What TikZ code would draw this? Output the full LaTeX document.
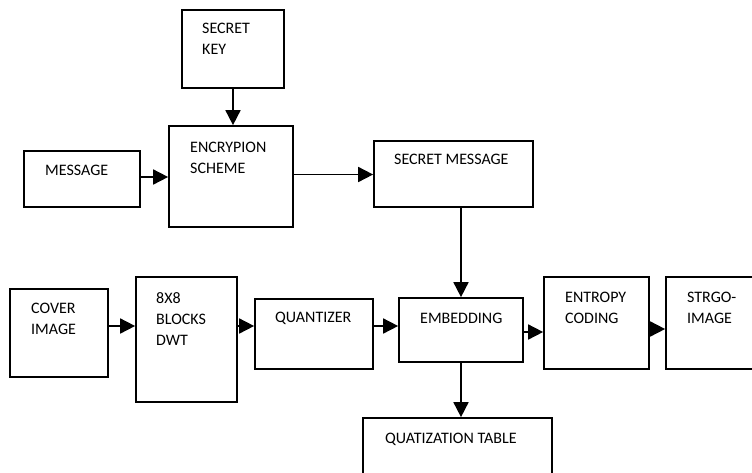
\documentclass[tikz,border=0pt]{standalone}
\usepackage{fontspec}
\setmainfont{Carlito}
\usetikzlibrary{arrows.meta}
\begin{document}
\begin{tikzpicture}[x=1pt,y=-1pt,
  box/.style={draw=black,line width=1.7pt,inner sep=0pt,rectangle},
  lbl/.style={anchor=north west,inner sep=0pt,align=left,font=\fontsize{16}{21}\selectfont},
  flow/.style={line width=1.7pt,-{Triangle[length=15pt,width=15pt]}}]
\useasboundingbox (0,0) rectangle (752,472);
\begin{scope}
\clip (0,0) rectangle (752,472);
% boxes: centre at ((x1+x2)/2,(y1+y2)/2)
\node[box,minimum width=102pt,minimum height=78pt] (key) at (233,49) {};
\node[box,minimum width=124pt,minimum height=101pt] (enc) at (231,176.5) {};
\node[box,minimum width=116pt,minimum height=56pt] (msg) at (82,179) {};
\node[box,minimum width=159pt,minimum height=66pt] (smsg) at (453.5,174) {};
\node[box,minimum width=98pt,minimum height=88pt] (cover) at (59,333) {};
\node[box,minimum width=101pt,minimum height=125pt] (dwt) at (186.5,339.5) {};
\node[box,minimum width=118pt,minimum height=70pt] (quant) at (314,334) {};
\node[box,minimum width=124pt,minimum height=64pt] (emb) at (461,330) {};
\node[box,minimum width=105pt,minimum height=92pt] (ent) at (596.5,323) {};
\node[box,minimum width=104pt,minimum height=92pt] (stego) at (718,323) {};
\node[box,minimum width=189pt,minimum height=72pt] (qtab) at (457.5,454) {};
\end{scope}
% labels
\node[lbl] (tkey) at (202,23) {SECRET\\KEY};
\node[lbl] (tenc) at (190,142) {ENCRYPION\\SCHEME};
\node[lbl] (tmsg) at (45,165) {MESSAGE};
\node[lbl] (tsmsg) at (394,154) {SECRET MESSAGE};
\node[lbl] (tcover) at (31,303) {COVER\\IMAGE};
\node[lbl] (tdwt) at (156,292) {8X8\\BLOCKS\\DWT};
\node[lbl] (tquant) at (275,312) {QUANTIZER};
\node[lbl] (temb) at (420,313) {EMBEDDING};
\node[lbl] (tent) at (565,292) {ENTROPY\\CODING};
\node[lbl] (tstego) at (687,292) {STRGO-\\IMAGE};
\node[lbl] (tqtab) at (385,433) {QUATIZATION TABLE};
% connectors
\draw[flow] (key.south) -- (key.south |- enc.north);
\draw[flow] ([yshift=2pt]msg.east) -- ([yshift=2pt]msg.east -| enc.west);
\draw[flow] ([yshift=2pt]enc.east) -- ([yshift=2pt]enc.east -| smsg.west);
\draw[flow] (emb.north |- smsg.south) -- (emb.north);
\draw[flow] ([yshift=7pt]cover.east) -- ([yshift=7pt]cover.east -| dwt.west);
\draw[flow] ([yshift=8pt]quant.west -| dwt.east) -- ([yshift=8pt]quant.west);
\draw[flow] ([yshift=8pt]quant.east) -- ([yshift=8pt]quant.east -| emb.west);
\draw[flow] ([yshift=-2pt]emb.east) -- ([yshift=-2pt]emb.east -| ent.west);
\draw[flow] ([yshift=-6pt]ent.east) -- ([yshift=-6pt]ent.east -| stego.west);
\draw[flow] (emb.south) -- (emb.south |- qtab.north);
\end{tikzpicture}
\end{document}
